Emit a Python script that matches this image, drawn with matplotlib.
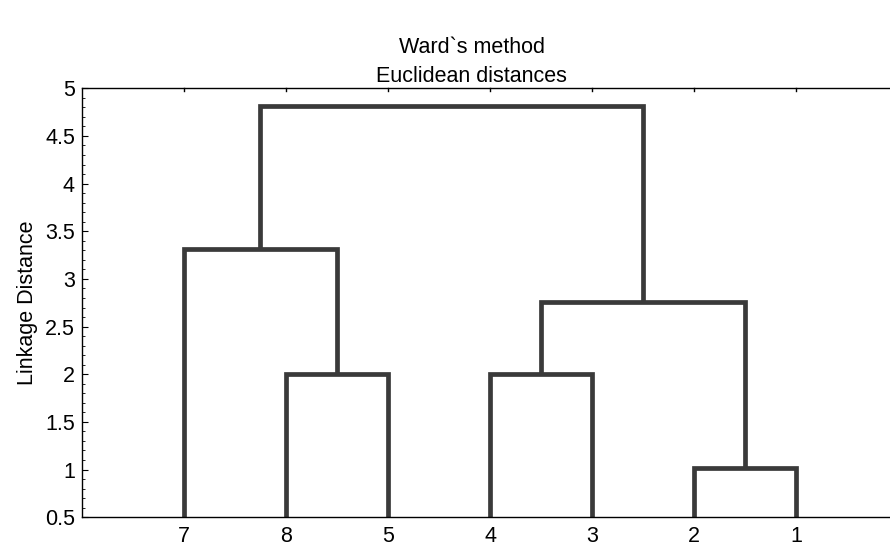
import numpy as np
import matplotlib
matplotlib.use("Agg")
import matplotlib.pyplot as plt
from matplotlib.ticker import MultipleLocator, FuncFormatter

plt.rcParams['font.family'] = ['Liberation Sans', 'DejaVu Sans']

# leaves in plotting order
leaves = ['7', '8', '5', '4', '3', '2', '1']

# merges: (cluster a, cluster b, linkage distance)
# clusters 0..6 are the leaves, each merge gets the next id
merge_a = [1, 3, 5, 0, 8, 10]
merge_b = [2, 4, 6, 7, 9, 11]
merge_h = [2.0, 2.0, 1.02, 3.31, 2.76, 4.81]

fig = plt.figure(figsize=(8.9, 5.45), dpi=100)
ax = fig.add_axes([0.092, 0.051, 0.908, 0.787])

# position and height of every cluster
pos = {i: i + 1.0 for i in range(len(leaves))}
hgt = {i: 0.5 for i in range(len(leaves))}

col = '#3a3a3a'
for k, (a, b, h) in enumerate(zip(merge_a, merge_b, merge_h)):
    xa, xb = pos[a], pos[b]
    ax.plot([xa, xa, xb, xb], [hgt[a], h, h, hgt[b]], color=col, lw=3.4,
            solid_joinstyle='miter', solid_capstyle='butt', clip_on=False)
    new = len(leaves) + k
    pos[new] = (xa + xb) / 2
    hgt[new] = h

# small tick marks at the top edge over each leaf
for x in range(1, len(leaves) + 1):
    ax.plot([x, x], [5, 4.97], color='black', lw=1, clip_on=False)

ax.set_xlim(0, 7.92)
ax.set_ylim(0.5, 5)
ax.set_xticks(np.arange(1, len(leaves) + 1))
ax.set_xticklabels(leaves)
ax.yaxis.set_major_locator(MultipleLocator(0.5))
ax.yaxis.set_minor_locator(MultipleLocator(0.1))
ax.yaxis.set_major_formatter(FuncFormatter(lambda v, p: f'{v:g}'))

ax.tick_params(axis='y', which='major', direction='in', length=4, labelsize=15.5, pad=5)
ax.tick_params(axis='y', which='minor', direction='in', length=2)
ax.tick_params(axis='x', direction='in', length=0, labelsize=15.5, pad=6)
ax.spines['right'].set_visible(False)
for s in ['left', 'top', 'bottom']:
    ax.spines[s].set_linewidth(1.0)

ax.set_ylabel('Linkage Distance', fontsize=15.5, labelpad=5)
fig.text(0.53, 0.912, 'Ward`s method', ha='center', va='center', fontsize=15.5)
fig.text(0.53, 0.86, 'Euclidean distances', ha='center', va='center', fontsize=15.5)

fig.savefig('out.png', dpi=100)
